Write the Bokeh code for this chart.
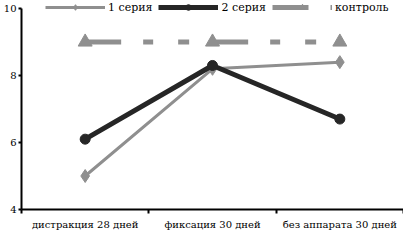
from bokeh.plotting import figure
from bokeh.models import Range1d, FixedTicker, Legend, LegendItem
from bokeh.embed import file_html
from bokeh.resources import INLINE

cats = ["дистракция 28 дней", "фиксация 30 дней", "без аппарата 30 дней"]
s1 = [5.0, 8.2, 8.4]
s2 = [6.1, 8.3, 6.7]
ctrl = [9.0, 9.0, 9.0]
names = ["1 серия", "2 серия", "контроль"]
y_ticks = [4, 6, 8, 10]

x = [i + 0.5 for i in range(len(cats))]
bounds = list(range(len(cats) + 1))

FONT = "DejaVu Serif"
GRAY = "#8f8f8f"
DARK = "#262626"

p = figure(width=403, height=232, x_range=Range1d(0, len(cats)), y_range=Range1d(4, 10.24),
           output_backend="svg", toolbar_location=None,
           min_border_left=20, min_border_right=0, min_border_top=0, min_border_bottom=0)
p.outline_line_color = None
p.xgrid.visible = False
p.ygrid.visible = False
p.background_fill_color = "white"

l1 = p.line(x, s1, line_color=GRAY, line_width=3)
m1 = p.scatter(x, s1, marker="diamond", size=13, fill_color=GRAY, line_color=GRAY)
l2 = p.line(x, s2, line_color=DARK, line_width=5)
m2 = p.scatter(x, s2, marker="circle", size=10, fill_color=DARK, line_color=DARK)
l3 = p.line(x, ctrl, line_color=GRAY, line_width=5, line_dash="36 22 10 25 11 23")
m3 = p.scatter(x, ctrl, marker="triangle", size=14, fill_color=GRAY, line_color=GRAY)

xa = p.xaxis[0]
xa.ticker = FixedTicker(ticks=x, minor_ticks=bounds)
xa.major_label_overrides = {xi: c for xi, c in zip(x, cats)}
xa.major_tick_line_color = None
xa.major_tick_out = 0
xa.major_tick_in = 0
xa.minor_tick_out = 4
xa.minor_tick_in = 0
xa.minor_tick_line_width = 2
xa.minor_tick_line_color = "black"
xa.axis_line_width = 2
xa.axis_line_color = "black"
xa.major_label_text_font = FONT
xa.major_label_text_font_size = "10px"
xa.major_label_text_color = "black"
xa.major_label_standoff = 5

ya = p.yaxis[0]
ya.ticker = FixedTicker(ticks=y_ticks)
ya.bounds = (4, 10)
ya.minor_tick_line_color = None
ya.major_tick_out = 3
ya.major_tick_in = 0
ya.major_tick_line_width = 2
ya.major_tick_line_color = "black"
ya.axis_line_width = 2
ya.axis_line_color = "black"
ya.major_label_text_font = FONT
ya.major_label_text_font_size = "10px"
ya.major_label_text_color = "black"
ya.major_label_standoff = 2

legend = Legend(items=[LegendItem(label=names[0], renderers=[l1, m1]),
                       LegendItem(label=names[1], renderers=[l2, m2]),
                       LegendItem(label=names[2], renderers=[l3, m3])],
                orientation="horizontal", location=(24, 195),
                glyph_width=60, glyph_height=14, label_height=14, label_standoff=3,
                spacing=6, padding=0, margin=0, border_line_color=None,
                background_fill_alpha=0, label_text_font=FONT,
                label_text_font_size="11px", label_text_color="black")
p.add_layout(legend)

open("out.html", "w").write(file_html(p, INLINE))
